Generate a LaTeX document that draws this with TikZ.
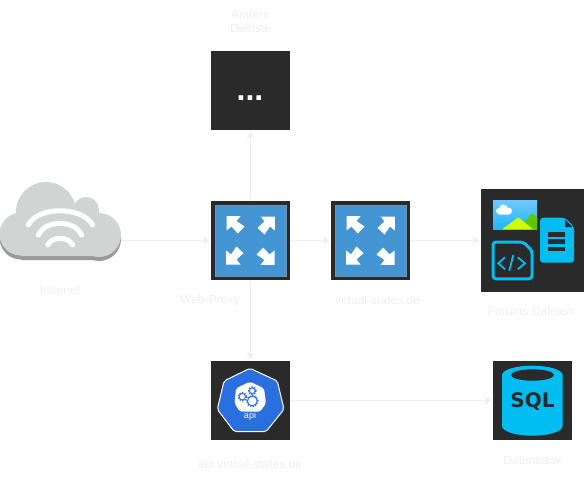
\documentclass[tikz,border=0pt]{standalone}
\usepackage{fontspec}
\setmainfont{Liberation Sans}
\newfontfamily\sqlfont{DejaVu Sans}
\usetikzlibrary{arrows.meta}
\definecolor{tiledark}{HTML}{2A2A2A}
\definecolor{panelblue}{HTML}{4495D4}
\definecolor{azure}{HTML}{00BEF2}
\definecolor{k8sblue}{HTML}{2A6FE0}
\definecolor{linegrey}{HTML}{EEEEEE}
\definecolor{cloudgrey}{HTML}{D2D4D4}
\definecolor{cloudedge}{HTML}{9A9A9A}
\tikzset{
  tile/.style  = {fill=tiledark, minimum size=79pt, inner sep=0pt},
  lbl/.style   = {font=\fontsize{12}{14}\selectfont, text=linegrey, align=center, inner sep=0pt},
  conn/.style  = {-{Stealth[length=7pt,width=8pt]}, linegrey, line width=0.8pt, shorten >=1.5pt},
  wifi/.style  = {white, line width=5pt, line cap=round},
  expand/.pic  = {
    \draw[fill=panelblue, draw=panelblue!70!black!70] (-35.5,-35.5) rectangle (35.5,35.5);
    \foreach \ang in {0,90,180,270}
      \fill[white, rotate=\ang] (-24,-24.3) -- (-10,-24.3) -- (-14,-19.5) -- (-6,-14)
        -- (-12.7,-7) -- (-19,-14) -- (-24,-10) -- cycle;
  },
  puff/.pic    = {
    \fill (46,212) circle (30pt) (86,210) circle (13pt) (99,235) circle (22pt)
      (21,234) circle (21.5pt) (21,226) rectangle (99,256);
    \fill (16,214) -- (74,205) -- (100,213) -- (100,235) -- (16,235) -- cycle;
  }
}

\begin{document}
\begin{tikzpicture}[x=1pt,y=-1pt]
  \useasboundingbox (0,0) rectangle (585,476);
  % ---- tiles ----
  \node[tile] (others) at (250.5,90.5) {};
  \node[tile] (proxy) at (250.5,240.5) {};
  \node[tile] (vstates) at (370.5,240.5) {};
  \node[tile, minimum size=103pt] (files) at (532.5,240.5) {};
  \node[tile] (api) at (250.5,400.5) {};
  \node[tile] (sqldb) at (532.5,400.5) {};
  \coordinate (inet) at (121,240.5);
  % ---- cloud ----
  \pic[cloudedge] at (0,4) {puff};
  \pic[cloudgrey] at (0,0) {puff};
  \draw[wifi] (28.3,225) .. controls (38,206) and (82,206) .. (92.7,225);
  \draw[wifi] (38.3,235) .. controls (46,219.4) and (74,219.4) .. (81.7,235);
  \draw[wifi] (47.7,245) .. controls (52,236) and (68,236) .. (72.7,245);
  % ---- connectors ----
  \draw[conn] (inet) -- (proxy);
  \draw[conn] (proxy) -- (vstates);
  \draw[conn] (vstates) -- (files);
  \draw[conn] (proxy) -- (others);
  \draw[conn] (proxy) -- (api);
  \draw[conn] (api) -- (sqldb);
  % ---- inside the tiles ----
  \node[font=\fontsize{32}{32}\selectfont\bfseries, text=white, anchor=base, inner sep=0pt] (dots) at (250,100.7) {...};
  \pic at (proxy) {expand};
  \pic at (vstates) {expand};
  % files: picture
  \fill[top color=cyan!60!blue!55, bottom color=cyan!70!blue!90] (493,200) rectangle (537,229.3);
  \fill[white] (499,211) circle (3pt) (503.5,209) circle (4.5pt) (508.5,211) circle (3.5pt) (499,210) rectangle (509,214.5);
  \fill[green!55!black!50!lime] (519,229.3) -- (531.7,213.3) -- (537,217) -- (537,229.3) -- cycle;
  \fill[lime!70!yellow] (502.3,229.3) -- (518.3,217.3) -- (533,229.3) -- cycle;
  % files: document
  \fill[azure, rounded corners=3pt] (540,217.7) -- (565,217.7) -- (574,226.7) -- (574,262.7) -- (540,262.7) -- cycle;
  \fill[tiledark] (565,219.5) -- (572.5,227) -- (565,227) -- cycle;
  \foreach \ya/\yb in {231.7/236.7,239.3/244.3,246.7/251}
    \fill[tiledark] (548.3,\ya) rectangle (565,\yb);
  % files: code sheet
  \draw[azure, line width=3pt, rounded corners=3pt] (493,242) -- (523,242) -- (532,250.5) -- (532,278.8) -- (493,278.8) -- cycle;
  \draw[azure, line width=1.8pt] (505,257.3) -- (498.3,263.3) -- (505,269.3);
  \draw[azure, line width=1.8pt] (513.3,255) -- (509.3,270.7);
  \draw[azure, line width=1.8pt] (517.7,257.3) -- (525,263.3) -- (517.7,269.3);
  % api badge
  \draw[fill=k8sblue, draw=white, line width=1pt, rounded corners=2pt] (250,368.3) -- (277.3,381) -- (284,409.3)
    -- (266,431.7) -- (234.3,431.7) -- (217.3,409.3) -- (224,381) -- cycle;
  \fill[white, rounded corners=2pt] (250,381.7) -- (264,388.3) -- (266,403.3) -- (260,411.7)
    -- (240,411.7) -- (234.5,403.3) -- (236,388.3) -- cycle;
  \foreach \gx/\gy/\gr in {242.3/396.7/4, 252.3/390.7/3.6, 252.3/401/5.6} {
    \draw[k8sblue, line width=1.6pt, dash pattern=on 1.3pt off 1.3pt] (\gx,\gy) circle (\gr pt);
    \draw[k8sblue, line width=0.9pt, fill=white] (\gx,\gy) circle (\gr pt - 0.8pt);
  }
  \node[font=\fontsize{9}{10}\selectfont, text=white, inner sep=0pt] (apitxt) at (250,416) {api};
  % sql barrel
  \fill[azure] (532.3,375) ellipse (30.3pt and 9.3pt) (532.3,426) ellipse (30.3pt and 9.7pt) (502,375) rectangle (562.6,426);
  \fill[tiledark] (532.5,375) ellipse (21.5pt and 5.7pt);
  \node[font=\fontsize{20}{20}\selectfont\sqlfont\bfseries, text=tiledark, inner sep=0pt] (sqltxt) at (532.5,402) {SQL};
  % ---- labels ----
  \node[lbl] (lothers) at (250.5,21) {Andere\\Dienste};
  \node[lbl] (linet) at (60,290.5) {Internet};
  \node[lbl] (lproxy) at (210,300.5) {Web-Proxy};
  \node[lbl] (lvstates) at (377.5,300.5) {virtual-states.de};
  \node[lbl] (lfiles) at (530.5,311) {Forums Dateien};
  \node[lbl] (lapi) at (250,465.5) {api.virtual-states.de};
  \node[lbl] (lsqldb) at (532.5,460.5) {Datenbank};
\end{tikzpicture}
\end{document}
